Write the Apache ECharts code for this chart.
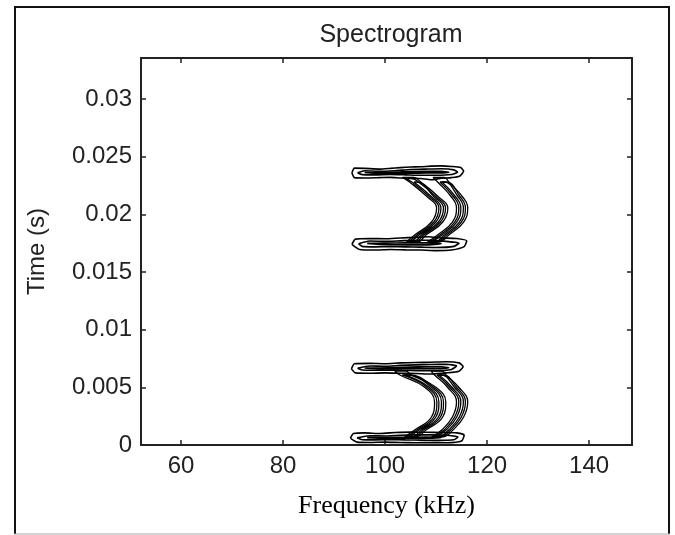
<!DOCTYPE html>
<html>
<head>
<meta charset="utf-8">
<script src="https://cdn.jsdelivr.net/npm/echarts@6/dist/echarts.min.js"></script>
<style>
  html, body { margin: 0; padding: 0; background: #fff; }
  #chart { width: 675px; height: 535px; }
</style>
</head>
<body>
<div id="chart"></div>
<script>
// ejes
const xTicks = [60, 80, 100, 120, 140];
const xMin = 52.16, xMax = 148.4;
const yMin = 0, yMax = 0.03355, yStep = 0.005;

// pulso 1 (arriba) - contornos cerrados [kHz, s]
const p1TopBand = [
  [[93.5,0.0236],[94.0,0.0240],[96,0.02398],[99,0.02392],[101,0.02398],[103,0.02405],[105,0.0241],[107,0.02412],[109,0.02418],[111,0.0242],[113,0.02415],[114.8,0.02405],[115.4,0.02375],[114.6,0.0233],[113,0.02318],[111,0.02312],[109,0.023],[107,0.0231],[105,0.02312],[103,0.02315],[101,0.0232],[99,0.02318],[96,0.02315],[94,0.02318],[93.5,0.0236]],
  [[94.6,0.0236],[96,0.02378],[99,0.02372],[102,0.02378],[105,0.02388],[108,0.02392],[111,0.02395],[113.5,0.02385],[114.2,0.02365],[113,0.02345],[110,0.02338],[107,0.02338],[104,0.02342],[101,0.02345],[98,0.02342],[95.5,0.02344],[94.6,0.0236]],
  [[96,0.02362],[99,0.0236],[102,0.02365],[105,0.0237],[108,0.02372],[111,0.02372],[112.5,0.02365],[111,0.02358],[108,0.02358],[105,0.02356],[102,0.02355],[99,0.02352],[96,0.02362]]
];
const p1BottomBand = [
  [[93.5,0.0174],[94.2,0.01785],[97,0.0179],[100,0.01788],[103,0.01795],[106,0.018],[108.5,0.01805],[111,0.01795],[114,0.0179],[116,0.0177],[115.5,0.0172],[113,0.0169],[110,0.01685],[107,0.0169],[104,0.01692],[101,0.01695],[98,0.0169],[95,0.01695],[93.5,0.0174]],
  [[94.8,0.01745],[97,0.01768],[100,0.01765],[103,0.0177],[106,0.01775],[109,0.01775],[112,0.01765],[114.5,0.0175],[113.5,0.01722],[110,0.01712],[107,0.01715],[104,0.01718],[101,0.0172],[98,0.01718],[95.5,0.01722],[94.8,0.01745]],
  [[96.5,0.01748],[100,0.0175],[104,0.01752],[108,0.01752],[111,0.01745],[108,0.01735],[104,0.01735],[100,0.01736],[96.5,0.01748]]
];
const p1ArcA = [
  [[103.4,0.0232],[104.8,0.0228],[108.3,0.0215],[110.1,0.02055],[109.1,0.01933],[105.8,0.0182],[104.2,0.0176],[106.4,0.0176],[108.0,0.0182],[111.3,0.01933],[112.3,0.02055],[110.5,0.0215],[107.0,0.0228],[105.6,0.0232],[103.4,0.0232]],
  [[103.9,0.0231],[105.25,0.0228],[108.75,0.0215],[110.55,0.02055],[109.55,0.01933],[106.25,0.0182],[104.65,0.0176],[105.95,0.0176],[107.55,0.0182],[110.85,0.01933],[111.85,0.02055],[110.05,0.0215],[106.55,0.0228],[105.2,0.0231],[103.9,0.0231]],
  [[105.65,0.0228],[109.15,0.0215],[110.95,0.02055],[109.95,0.01933],[106.65,0.0182],[105.05,0.0176],[105.55,0.0176],[107.15,0.0182],[110.45,0.01933],[111.45,0.02055],[109.65,0.0215],[106.15,0.0228],[105.65,0.0228]]
];
const p1ArcB = [
  [[109.4,0.0232],[110.3,0.0228],[113.0,0.0215],[114.0,0.02055],[113.2,0.01933],[110.3,0.0182],[108.3,0.0176],[110.5,0.0176],[112.5,0.0182],[115.4,0.01933],[116.2,0.02055],[115.2,0.0215],[112.5,0.0228],[111.6,0.0232],[109.4,0.0232]],
  [[110.75,0.0228],[113.45,0.0215],[114.45,0.02055],[113.65,0.01933],[110.75,0.0182],[108.75,0.0176],[110.05,0.0176],[112.05,0.0182],[114.95,0.01933],[115.75,0.02055],[114.75,0.0215],[112.05,0.0228],[110.75,0.0228]],
  [[111.15,0.0228],[113.85,0.0215],[114.85,0.02055],[114.05,0.01933],[111.15,0.0182],[109.15,0.0176],[109.65,0.0176],[111.65,0.0182],[114.55,0.01933],[115.35,0.02055],[114.35,0.0215],[111.65,0.0228],[111.15,0.0228]]
];

// pulso 2 (abajo)
const p2TopBand = [
  [[93.4,0.0066],[94.0,0.00705],[97,0.00708],[100,0.00705],[103,0.00712],[106,0.00715],[109,0.00718],[112,0.00722],[114.5,0.00712],[115.3,0.0068],[114.5,0.0064],[112,0.00625],[109,0.00615],[106,0.0062],[103,0.00622],[100,0.00625],[97,0.00622],[94.2,0.00625],[93.4,0.0066]],
  [[94.6,0.00665],[97,0.00685],[100,0.00682],[103,0.0069],[106,0.00695],[109,0.00698],[112,0.007],[114,0.00685],[113,0.00655],[110,0.00645],[107,0.00645],[104,0.00648],[101,0.0065],[98,0.00648],[95.5,0.0065],[94.6,0.00665]],
  [[96,0.00668],[99,0.00668],[102,0.00672],[105,0.00676],[108,0.00678],[111,0.00678],[112.5,0.0067],[111,0.00662],[108,0.00662],[105,0.00662],[102,0.0066],[99,0.00658],[96,0.00668]]
];
const p2BottomBand = [
  [[93.2,0.0006],[93.8,0.001],[96,0.00105],[99,0.001],[102,0.00108],[105,0.00112],[108,0.0011],[111,0.00108],[114,0.00105],[115.5,0.00085],[115,0.00035],[112,0.0002],[109,0.00022],[106,0.0002],[103,0.00022],[100,0.00025],[97,0.00022],[94.5,0.00025],[93.2,0.0006]],
  [[94.5,0.00062],[97,0.0008],[100,0.00078],[103,0.00085],[106,0.00088],[109,0.00088],[112,0.00084],[114.3,0.0007],[113.5,0.00045],[110,0.0004],[107,0.00042],[104,0.00044],[101,0.00046],[98,0.00044],[95.5,0.00046],[94.5,0.00062]],
  [[96.5,0.00064],[100,0.00065],[104,0.00067],[108,0.00068],[111,0.00064],[108,0.00058],[104,0.00058],[100,0.00058],[96.5,0.00064]]
];
const p2ArcA = [
  [[101.9,0.0064],[102.9,0.00607],[107.7,0.00503],[109.7,0.00373],[109.1,0.00243],[105.8,0.0013],[103.8,0.0007],[106.0,0.0007],[108.0,0.0013],[111.3,0.00243],[111.9,0.00373],[109.9,0.00503],[105.1,0.00607],[104.1,0.0064],[101.9,0.0064]],
  [[103.35,0.00607],[108.15,0.00503],[110.15,0.00373],[109.55,0.00243],[106.25,0.0013],[104.25,0.0007],[105.55,0.0007],[107.55,0.0013],[110.85,0.00243],[111.45,0.00373],[109.45,0.00503],[104.65,0.00607],[103.35,0.00607]],
  [[103.75,0.00607],[108.55,0.00503],[110.55,0.00373],[109.95,0.00243],[106.65,0.0013],[104.65,0.0007],[105.15,0.0007],[107.15,0.0013],[110.45,0.00243],[111.05,0.00373],[109.05,0.00503],[104.25,0.00607],[103.75,0.00607]]
];
const p2ArcB = [
  [[109.0,0.0064],[109.7,0.00607],[112.2,0.00503],[114.0,0.00373],[113.2,0.00243],[111.1,0.0013],[109.1,0.0007],[111.3,0.0007],[113.3,0.0013],[115.4,0.00243],[116.2,0.00373],[114.4,0.00503],[111.9,0.00607],[111.2,0.0064],[109.0,0.0064]],
  [[110.15,0.00607],[112.65,0.00503],[114.45,0.00373],[113.65,0.00243],[111.55,0.0013],[109.55,0.0007],[110.85,0.0007],[112.85,0.0013],[114.95,0.00243],[115.75,0.00373],[113.95,0.00503],[111.45,0.00607],[110.15,0.00607]],
  [[110.55,0.00607],[113.05,0.00503],[114.85,0.00373],[114.05,0.00243],[111.95,0.0013],[109.95,0.0007],[110.45,0.0007],[112.45,0.0013],[114.55,0.00243],[115.35,0.00373],[113.55,0.00503],[111.05,0.00607],[110.55,0.00607]]
];

const bandas = [...p1TopBand, ...p1BottomBand, ...p2TopBand, ...p2BottomBand];
const arcos = [...p1ArcA, ...p1ArcB, ...p2ArcA, ...p2ArcB];

const fuente = "'Liberation Sans', Arial, sans-serif";
const colorEje = "#222";

const myChart = echarts.init(document.getElementById("chart"));

const ejeX = {
  type: "value",
  min: xMin,
  max: xMax,
  axisLine: { show: true, onZero: false, lineStyle: { color: colorEje, width: 2 } },
  axisTick: { show: true, inside: true, length: 5, customValues: xTicks, lineStyle: { color: colorEje, width: 1.5 } },
  splitLine: { show: false },
};
const ejeY = {
  type: "value",
  min: yMin,
  max: yMax,
  interval: yStep,
  axisLine: { show: true, onZero: false, lineStyle: { color: colorEje, width: 2 } },
  axisTick: { show: true, inside: true, length: 5, lineStyle: { color: colorEje, width: 1.5 } },
  splitLine: { show: false },
};

function contorno(lazo, suave, grosor) {
  return {
    type: "line",
    data: lazo,
    xAxisIndex: 0,
    yAxisIndex: 0,
    symbol: "none",
    smooth: suave,
    silent: true,
    lineStyle: { color: "#000", width: grosor },
  };
}

var option = {
  animation: false,
  backgroundColor: "#fff",
  title: {
    text: "Spectrogram",
    left: 386,
    top: 18,
    textAlign: "center",
    textStyle: { fontFamily: fuente, fontSize: 25, fontWeight: "normal", color: colorEje },
  },
  grid: { left: 141, top: 58, right: 43, bottom: 90 },
  xAxis: [
    {
      ...ejeX,
      position: "bottom",
      name: "Frequency (kHz)",
      nameLocation: "middle",
      nameGap: 48,
      nameTextStyle: { fontFamily: "'Liberation Serif', 'Times New Roman', serif", fontSize: 26, color: "#000" },
      axisLabel: { customValues: xTicks, margin: 9, fontFamily: fuente, fontSize: 24, color: colorEje },
    },
    { ...ejeX, position: "top", axisLabel: { show: false } },
  ],
  yAxis: [
    {
      ...ejeY,
      position: "left",
      name: "Time (s)",
      nameLocation: "middle",
      nameGap: 92,
      nameTextStyle: { fontFamily: fuente, fontSize: 24, color: colorEje },
      axisLabel: { margin: 9, showMaxLabel: false, fontFamily: fuente, fontSize: 24, color: colorEje },
    },
    { ...ejeY, position: "right", axisLabel: { show: false } },
  ],
  graphic: [
    { type: "line", shape: { x1: 15, y1: 6, x2: 15, y2: 534 }, style: { stroke: "#111", lineWidth: 2 } },
    { type: "line", shape: { x1: 14, y1: 7, x2: 670, y2: 7 }, style: { stroke: "#111", lineWidth: 2 } },
    { type: "line", shape: { x1: 669, y1: 6, x2: 669, y2: 534 }, style: { stroke: "#111", lineWidth: 2 } },
    { type: "line", shape: { x1: 14, y1: 534, x2: 670, y2: 534 }, style: { stroke: "#aaa", lineWidth: 1 } },
  ],
  series: [
    ...bandas.map((lazo) => contorno(lazo, 0.2, 1.6)),
    ...arcos.map((lazo) => contorno(lazo, 0.45, 1.3)),
  ],
};

myChart.setOption(option);
</script>
</body>
</html>
